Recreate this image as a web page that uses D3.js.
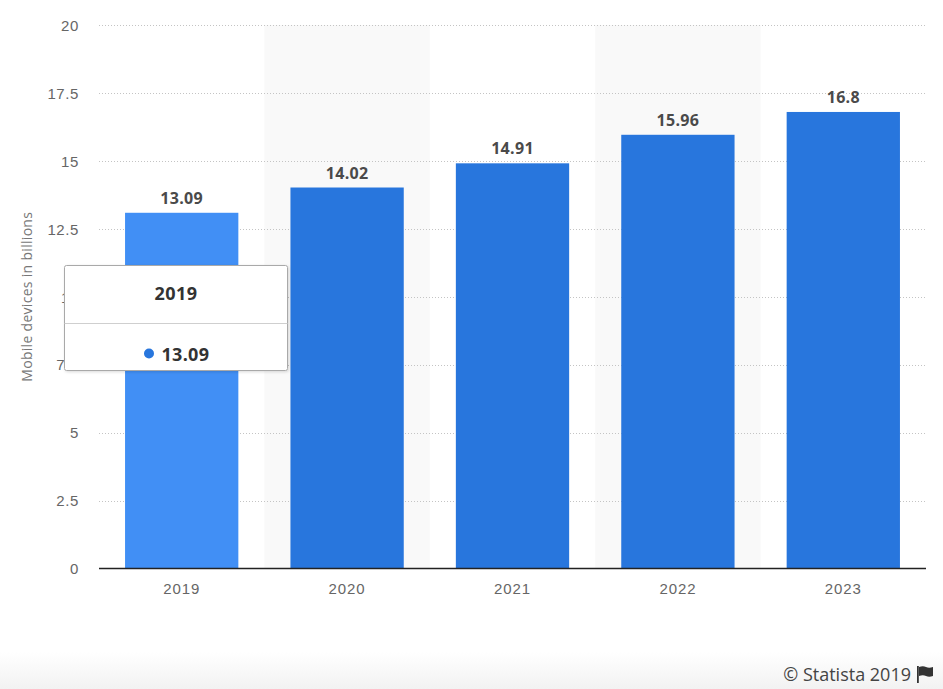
<!DOCTYPE html>
<html><head><meta charset="utf-8">
<script src="https://cdn.jsdelivr.net/npm/d3@7"></script>
<style>
html,body{margin:0;padding:0;background:#fff;}
svg{display:block;font-family:"Open Sans","DejaVu Sans",sans-serif;}
</style></head>
<body>
<svg id="chart" width="943" height="689"></svg>
<script>
const categories = ["2019","2020","2021","2022","2023"];
const values = [13.09, 14.02, 14.91, 15.96, 16.8];
const yTicks = [0, 2.5, 5, 7.5, 10, 12.5, 15, 17.5, 20];
const yTickLabels = ["0","2.5","5","7.5","10","12.5","15","17.5","20"];
const yTitle = "Mobile devices in billions";
const hovered = "2019";

const svg = d3.select("#chart");
const W = 943, H = 689;
const m = {left: 99, right: 17, top: 25, bottom: 120};
const x = d3.scaleBand().domain(categories).range([m.left, W - m.right]).paddingInner(0.315).paddingOuter(0.1575);
const y = d3.scaleLinear().domain([0, 20]).range([568.5, m.top]);

const defs = svg.append("defs");
const g1 = defs.append("linearGradient").attr("id","foot").attr("x1",0).attr("x2",0).attr("y1",0).attr("y2",1);
g1.append("stop").attr("offset","0%").attr("stop-color","#ffffff");
g1.append("stop").attr("offset","100%").attr("stop-color","#f2f2f2");
const sh = defs.append("filter").attr("id","sh").attr("x","-10%").attr("y","-10%").attr("width","130%").attr("height","130%");
sh.append("feDropShadow").attr("dx",1).attr("dy",1).attr("stdDeviation",1.5).attr("flood-color","#000").attr("flood-opacity",0.15);

svg.append("rect").attr("x",0).attr("y",652).attr("width",W).attr("height",H-652).attr("fill","url(#foot)");

const step = x.step();
svg.append("g").selectAll("rect").data(categories.filter((d,i)=>i%2===1)).join("rect")
  .attr("x", d => x(d) - (step - x.bandwidth())/2)
  .attr("y", y(20)).attr("width", step).attr("height", y(0)-y(20))
  .attr("fill","#f9f9f9");

svg.append("g").selectAll("line").data(yTicks.filter(t=>t>0)).join("line")
  .attr("x1", m.left).attr("x2", W - m.right)
  .attr("y1", d => Math.round(y(d))+0.5).attr("y2", d => Math.round(y(d))+0.5)
  .attr("stroke","#c4c4c4").attr("stroke-width",1).attr("stroke-dasharray","1,2");

const yAxis = d3.axisLeft(y).tickValues(yTicks).tickSize(0).tickPadding(0)
  .tickFormat((d,i)=>yTickLabels[i]);
const ya = svg.append("g").attr("transform",`translate(${m.left-20},0)`).call(yAxis);
ya.select(".domain").remove();
ya.selectAll("text").attr("fill","#666").style("font-size","15px").style("letter-spacing","0.6px").attr("dy","0.35em");

svg.append("text").attr("transform",`translate(32,${(y(0)+y(20))/2}) rotate(-90)`)
  .attr("text-anchor","middle").attr("fill","#777").style("font-size","14px").style("letter-spacing","0.3px").text(yTitle);

svg.append("g").selectAll("rect").data(categories).join("rect")
  .attr("x", d => x(d)).attr("width", x.bandwidth())
  .attr("y", (d,i) => y(values[i])).attr("height", (d,i) => y(0) - y(values[i]))
  .attr("fill", d => d === hovered ? "#418ff5" : "#2876dd");

svg.append("g").selectAll("text").data(categories).join("text")
  .attr("x", d => x(d) + x.bandwidth()/2)
  .attr("y", (d,i) => y(values[i]) - 9)
  .attr("text-anchor","middle").attr("fill","#4a4a4a")
  .style("font-size","16px").style("font-weight","bold").style("letter-spacing","0.3px")
  .text((d,i) => values[i]);

const xAxis = d3.axisBottom(x).tickSize(0).tickPadding(14);
const xa = svg.append("g").attr("transform",`translate(0,${y(0)})`).call(xAxis);
xa.select(".domain").attr("stroke","#222").attr("stroke-width",1.5).attr("d",`M${m.left},0H${W-m.right}`);
xa.selectAll("text").attr("fill","#666").style("font-size","15px").style("letter-spacing","0.9px").attr("dy","0.75em");

const hi = categories.indexOf(hovered);
const tt = svg.append("g").attr("transform","translate(64.5,265.5)");
tt.append("rect").attr("width",223).attr("height",105).attr("rx",2)
  .attr("fill","#fff").attr("stroke","#a9a9a9").attr("stroke-width",1).attr("filter","url(#sh)");
tt.append("line").attr("x1",0).attr("x2",223).attr("y1",58).attr("y2",58).attr("stroke","#cfcfcf");
tt.append("text").attr("x",111.5).attr("y",34).attr("text-anchor","middle")
  .attr("fill","#333").style("font-size","18px").style("font-weight","bold").style("letter-spacing","0.4px").text(hovered);
tt.append("circle").attr("cx",84.5).attr("cy",88).attr("r",5).attr("fill","#2876dd");
tt.append("text").attr("x",97).attr("y",95).attr("fill","#333")
  .style("font-size","18px").style("font-weight","bold").style("letter-spacing","0.3px").text(values[hi].toFixed(2));

svg.append("text").attr("x",911).attr("y",681).attr("text-anchor","end").attr("fill","#444")
  .style("font-size","18px").text("© Statista 2019");
const fl = svg.append("g").attr("transform","translate(917,666)");
fl.append("rect").attr("x",0).attr("y",0).attr("width",1.8).attr("height",17).attr("fill","#333");
fl.append("path").attr("d","M2,1 Q6,-0.5 9,1 Q12,2.5 16,1 L16,10 Q12,11.5 9,10 Q6,8.5 2,10 Z").attr("fill","#333");
</script>
</body></html>
